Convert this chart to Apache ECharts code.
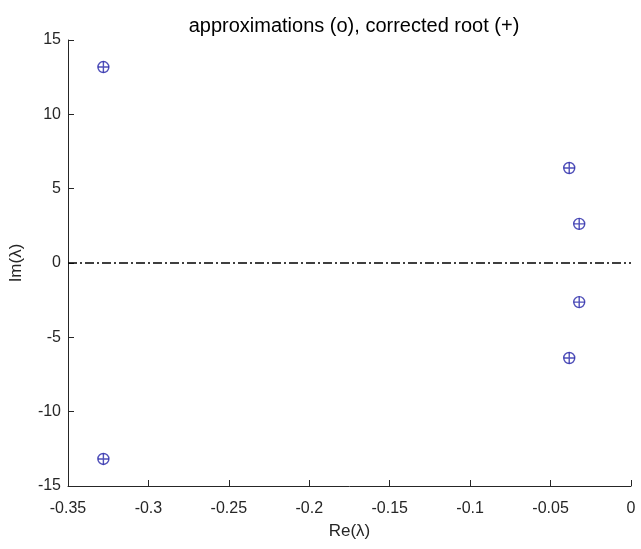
<!DOCTYPE html>
<html><head><meta charset="utf-8">
<script src="https://cdn.jsdelivr.net/npm/echarts@6/dist/echarts.min.js"></script>
<style>html,body{margin:0;padding:0;background:#fff}#c{width:641px;height:549px}</style>
</head><body><div id="c"></div>
<script>
var reVals = [-0.328, -0.0384, -0.0322, -0.0322, -0.0384, -0.328];
var imVals = [13.18, 6.39, 2.63, -2.63, -6.39, -13.18];
var zeroLineX = [-0.35, 0];
var zeroLineY = [0, 0];
var titleText = 'approximations (o), corrected root (+)';

var pts = reVals.map(function(r,i){return [r, imVals[i]];});
var zl = zeroLineX.map(function(x,i){return [x, zeroLineY[i]];});
var font = 'Liberation Sans, Arial, Helvetica, sans-serif';
var chart = echarts.init(document.getElementById('c'), null, {renderer:'canvas'});
chart.setOption({
  animation:false,
  backgroundColor:'#fff',
  title:{text:titleText,left:349,top:11,textAlign:'center',textStyle:{fontFamily:font,fontSize:20,fontWeight:'normal',color:'#000'}},
  grid:{left:67,right:10,top:40,bottom:63,containLabel:false},
  xAxis:{type:'value',min:-0.35,max:0,interval:0.05,name:'Re(λ)',nameLocation:'middle',nameGap:37,
    nameTextStyle:{fontFamily:font,fontSize:17,color:'#262626'},
    axisLine:{show:true,onZero:false,lineStyle:{color:'#262626',width:1}},
    axisTick:{show:true,inside:true,length:6,lineStyle:{color:'#262626'}},
    axisLabel:{fontFamily:font,fontSize:16,color:'#262626',margin:15},
    splitLine:{show:false}},
  yAxis:{type:'value',min:-15,max:15,interval:5,name:'Im(λ)',nameLocation:'middle',nameGap:43,nameRotate:90,
    nameTextStyle:{fontFamily:font,fontSize:17,color:'#262626'},
    axisLine:{show:true,onZero:false,lineStyle:{color:'#262626',width:1}},
    axisTick:{show:true,inside:true,length:6,lineStyle:{color:'#262626'}},
    axisLabel:{fontFamily:font,fontSize:16,color:'#262626',margin:7},
    splitLine:{show:false}},
  series:[
    {type:'line',data:zl,symbol:'none',lineStyle:{color:'#000',width:1.5,type:[9,3,2,3]},silent:true},
    {type:'scatter',data:pts,symbol:'circle',symbolSize:11,itemStyle:{color:'none',borderColor:'#2424a8',borderWidth:1.4}},
    {type:'scatter',data:pts,symbol:'path://M5 0 L5 10 M0 5 L10 5',symbolSize:11,itemStyle:{color:'none',borderColor:'#2424a8',borderWidth:1.4}}
  ]
});
</script></body></html>
